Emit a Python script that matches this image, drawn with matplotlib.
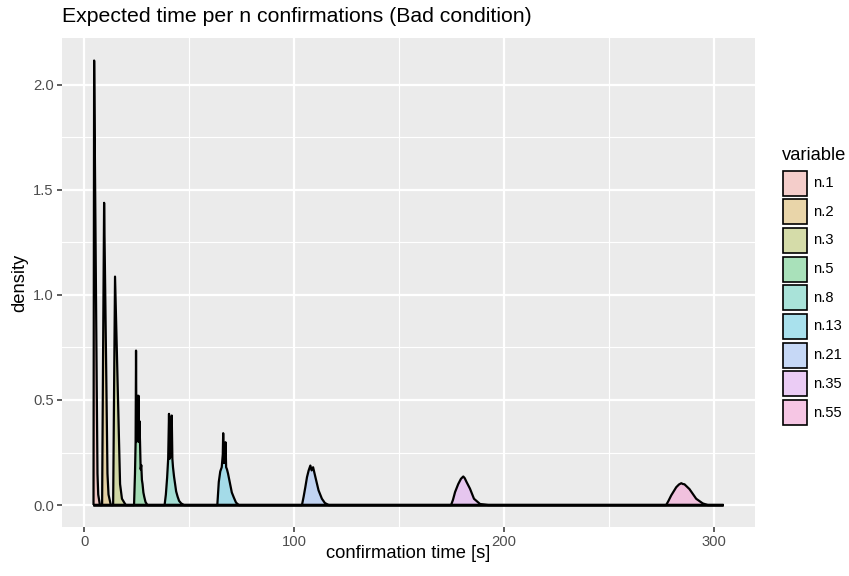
import matplotlib
matplotlib.use("Agg")
import matplotlib.pyplot as plt
from matplotlib.patches import Rectangle
from matplotlib.colors import to_rgb

# ---------------- data ----------------
categories = ["n.1", "n.2", "n.3", "n.5", "n.8", "n.13", "n.21", "n.35", "n.55"]
palette = ["#F8766D", "#D39200", "#93AA00", "#00BA38", "#00C19F",
           "#00B9E3", "#619CFF", "#DB72FB", "#FF61C3"]
x_range = [4.45, 304.4]          # range over which every density is evaluated

n1_x = [4.45, 4.75, 5.2, 5.56, 6.0, 6.35, 6.7, 7.5]
n1_y = [0.0, 2.115, 1.55, 1.10, 0.55, 0.15, 0.05, 0.0]

n2_x = [8.55, 9.0, 9.5, 10.0, 10.5, 11.1, 11.6, 12.7]
n2_y = [0.0, 0.70, 1.438, 1.04, 0.64, 0.15, 0.05, 0.0]

n3_x = [13.8, 14.25, 14.7, 15.5, 16.3, 17.1, 18.0, 19.8]
n3_y = [0.0, 0.55, 1.087, 0.76, 0.43, 0.10, 0.03, 0.0]

n5_x = [23.75, 24.2, 24.5, 24.7, 24.9, 25.1, 25.3, 25.5, 25.7, 25.9, 26.1,
        26.3, 26.6, 26.9, 27.2, 27.5, 27.8, 28.2, 28.6, 29.2, 30.1]
n5_y = [0.0, 0.15, 0.30, 0.735, 0.30, 0.50, 0.32, 0.52, 0.33, 0.52, 0.30,
        0.40, 0.30, 0.17, 0.19, 0.12, 0.10, 0.06, 0.04, 0.015, 0.0]

n8_x = [38.3, 38.9, 39.5, 40.0, 40.4, 40.7, 41.0, 41.3, 41.7, 42.0, 42.3,
        42.8, 43.3, 43.8, 44.5, 45.2, 46.2, 47.5]
n8_y = [0.0, 0.05, 0.13, 0.22, 0.434, 0.22, 0.40, 0.23, 0.426, 0.22, 0.18,
        0.135, 0.10, 0.065, 0.04, 0.02, 0.008, 0.0]

n13_x = [63.4, 64.1, 64.8, 65.5, 66.0, 66.2, 66.5, 66.8, 67.1, 67.3, 67.6,
         68.0, 68.5, 68.9, 69.3, 69.7, 70.3, 71.3, 72.3, 73.6]
n13_y = [0.0, 0.11, 0.16, 0.18, 0.24, 0.342, 0.20, 0.28, 0.20, 0.299, 0.18,
         0.17, 0.15, 0.13, 0.11, 0.09, 0.06, 0.035, 0.012, 0.0]

n21_x = [103.7, 104.5, 105.3, 106.1, 106.9, 107.7, 108.3, 109.0, 110.1,
         111.6, 113.2, 114.6, 116.4]
n21_y = [0.0, 0.04, 0.085, 0.133, 0.165, 0.188, 0.165, 0.180, 0.133,
         0.07, 0.03, 0.01, 0.0]

n35_x = [174.7, 175.6, 176.6, 178.1, 179.4, 180.5, 181.2, 182.1, 183.7,
         185.6, 188.5, 192.4]
n35_y = [0.0, 0.025, 0.062, 0.10, 0.125, 0.136, 0.128, 0.109, 0.078,
         0.03, 0.005, 0.0]

n55_x = [277.1, 278.2, 279.5, 281.9, 283.2, 284.3, 285.1, 285.8, 288.2,
         291.4, 294.5, 296.9]
n55_y = [0.0, 0.02, 0.046, 0.085, 0.098, 0.104, 0.100, 0.099, 0.076,
         0.03, 0.008, 0.0]

curves_x = [n1_x, n2_x, n3_x, n5_x, n8_x, n13_x, n21_x, n35_x, n55_x]
curves_y = [n1_y, n2_y, n3_y, n5_y, n8_y, n13_y, n21_y, n35_y, n55_y]

x_ticks = [0, 100, 200, 300]
x_minor = [50, 150, 250]
y_ticks = [0.0, 0.5, 1.0, 1.5, 2.0]
y_tick_labels = ["0.0", "0.5", "1.0", "1.5", "2.0"]
y_minor = [0.25, 0.75, 1.25, 1.75]

# ---------------- figure ----------------
W, H = 849, 576
plt.rcParams["font.family"] = ["Liberation Sans", "DejaVu Sans"]

def fx(px):
    return px / W

def fy(py):
    return 1 - py / H

fig = plt.figure(figsize=(W / 100, H / 100), dpi=100)
fig.patch.set_facecolor("white")

p_left, p_right, p_top, p_bottom = 62, 755, 38.3, 527.3
ax = fig.add_axes([fx(p_left), fy(p_bottom), (p_right - p_left) / W,
                   (p_bottom - p_top) / H])
ax.set_facecolor("#EBEBEB")
for s in ax.spines.values():
    s.set_visible(False)
ax.set_axisbelow(True)

line_w = 1.6
for xs, ys, col in zip(curves_x, curves_y, palette):
    xx = list(xs)
    yy = list(ys)
    if xx[0] > x_range[0]:
        xx = [x_range[0]] + xx
        yy = [0.0] + yy
    if xx[-1] < x_range[1]:
        xx = xx + [x_range[1]]
        yy = yy + [0.0]
    ax.fill_between(xx, 0, yy, facecolor=col, alpha=0.3, linewidth=0, zorder=2)
    ax.plot(xx, yy, color="black", linewidth=line_w, zorder=3,
            solid_joinstyle="round", solid_capstyle="butt")

xmin, xmax = x_range
pad = 0.05 * (xmax - xmin)
ax.set_xlim(xmin - pad, xmax + pad)
ymax = max(max(y) for y in curves_y)
ax.set_ylim(-0.05 * ymax, 1.05 * ymax)

ax.set_xticks(x_ticks)
ax.set_xticks(x_minor, minor=True)
ax.set_yticks(y_ticks)
ax.set_yticklabels(y_tick_labels)
ax.set_yticks(y_minor, minor=True)
ax.grid(which="major", color="white", linewidth=1.6)
ax.grid(which="minor", color="white", linewidth=0.8)
ax.tick_params(which="major", length=3.3, width=1.1, color="#333333",
               labelcolor="#4D4D4D", labelsize=10.6, pad=2.6)
ax.tick_params(which="minor", length=0)

# titles
fig.text(fx(62), fy(17), "Expected time per n confirmations (Bad condition)",
         fontsize=15.3, ha="left", va="center", color="black")
fig.text(fx((p_left + p_right) / 2), fy(554), "confirmation time [s]",
         fontsize=13.2, ha="center", va="center", color="black")
fig.text(fx(20), fy((p_top + p_bottom) / 2), "density", rotation=90,
         fontsize=13.2, ha="center", va="center", color="black")

# legend (drawn by hand, ggplot-style)
fig.text(fx(782), fy(155), "variable", fontsize=13.2, ha="left", va="center")
key_top0, key_step, key_w, key_h, key_x = 169.5, 28.7, 26, 27, 782
bg = to_rgb("#F2F2F2")
for i, (lab, col) in enumerate(zip(categories, palette)):
    c = to_rgb(col)
    blend = tuple(0.3 * a + 0.7 * b for a, b in zip(c, bg))
    top = key_top0 + i * key_step
    rect = Rectangle((fx(key_x + 1), fy(top + key_h - 1)), (key_w - 2) / W,
                     (key_h - 2) / H, transform=fig.transFigure,
                     facecolor=blend, edgecolor="black", linewidth=1.2)
    fig.add_artist(rect)
    fig.text(fx(813), fy(top + key_h / 2), lab, fontsize=10.6, ha="left",
             va="center", color="black")

fig.savefig("out.png", dpi=100)
